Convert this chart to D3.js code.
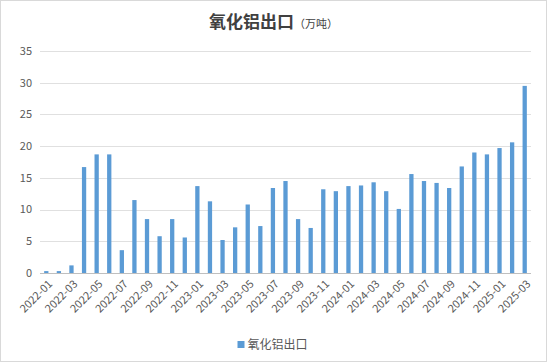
<!DOCTYPE html>
<html>
<head>
<meta charset="utf-8">
<script src="https://cdn.jsdelivr.net/npm/d3@7"></script>
<style>
  body { margin: 0; background: #fff; }
  text { font-family: "Noto Sans CJK SC", "Noto Sans", sans-serif; }
</style>
</head>
<body>
<div id="chart"></div>
<script>
const months = [
  "2022-01","2022-02","2022-03","2022-04","2022-05","2022-06","2022-07","2022-08","2022-09","2022-10","2022-11","2022-12",
  "2023-01","2023-02","2023-03","2023-04","2023-05","2023-06","2023-07","2023-08","2023-09","2023-10","2023-11","2023-12",
  "2024-01","2024-02","2024-03","2024-04","2024-05","2024-06","2024-07","2024-08","2024-09","2024-10","2024-11","2024-12",
  "2025-01","2025-02","2025-03"
];
const exports = [
  0.3, 0.3, 1.2, 16.7, 18.7, 18.7, 3.6, 11.5, 8.5, 5.8, 8.5, 5.6,
  13.7, 11.3, 5.2, 7.2, 10.8, 7.4, 13.4, 14.5, 8.5, 7.1, 13.2, 12.9,
  13.7, 13.8, 14.3, 12.9, 10.1, 15.6, 14.5, 14.2, 13.4, 16.8, 19.0, 18.7,
  19.7, 20.6, 29.5
];
const yTicks = [0, 5, 10, 15, 20, 25, 30, 35];
const tickLabels = months.filter((d, i) => i % 2 === 0);

const W = 547, H = 362;
const margin = {top: 51, right: 16, bottom: 89, left: 40},
    width = W - margin.left - margin.right,
    height = H - margin.top - margin.bottom;

const root = d3.select("#chart")
  .append("svg")
    .attr("width", W)
    .attr("height", H);

root.append("rect")
  .attr("x", 0.5).attr("y", 0.5)
  .attr("width", W - 1).attr("height", H - 1)
  .attr("fill", "#fff")
  .attr("stroke", "#d9d9d9");

const title = root.append("text")
  .attr("x", W / 2)
  .attr("y", 28)
  .attr("text-anchor", "middle");
title.append("tspan")
  .attr("font-size", 17)
  .attr("font-weight", "bold")
  .attr("fill", "#404040")
  .text("氧化铝出口");
title.append("tspan")
  .attr("font-size", 11)
  .attr("fill", "#404040")
  .text("（万吨）");

const svg = root.append("g")
  .attr("transform", `translate(${margin.left},${margin.top})`);

const x = d3.scaleBand()
  .domain(months)
  .range([0, width])
  .paddingInner(0.66)
  .paddingOuter(0.33);

const y = d3.scaleLinear()
  .domain([0, 35])
  .range([height, 0]);

// gridlines
svg.append("g")
  .selectAll("line")
  .data(yTicks)
  .enter()
  .append("line")
    .attr("x1", 0)
    .attr("x2", width)
    .attr("y1", d => Math.round(y(d)) + 0.5)
    .attr("y2", d => Math.round(y(d)) + 0.5)
    .attr("stroke", d => d === 0 ? "#bfbfbf" : "#e0e0e0");

// y labels
svg.append("g")
  .selectAll("text")
  .data(yTicks)
  .enter()
  .append("text")
    .attr("x", -8)
    .attr("y", d => y(d))
    .attr("dy", "0.35em")
    .attr("text-anchor", "end")
    .attr("font-size", 11)
    .attr("fill", "#595959")
    .text(d => d);

// bars
svg.selectAll(".bar")
  .data(months)
  .enter()
  .append("rect")
    .attr("class", "bar")
    .attr("x", d => x(d))
    .attr("y", (d, i) => y(exports[i]))
    .attr("width", x.bandwidth())
    .attr("height", (d, i) => height - y(exports[i]))
    .attr("fill", "#5b9bd5");

// x labels
svg.append("g")
  .selectAll("text")
  .data(tickLabels)
  .enter()
  .append("text")
    .attr("transform", d => `translate(${x(d) + x.bandwidth() / 2 + 4},${height + 9})rotate(-45)`)
    .attr("text-anchor", "end")
    .attr("dy", "0.35em")
    .attr("font-size", 11)
    .attr("fill", "#595959")
    .text(d => d);

// legend
const legend = root.append("g")
  .attr("transform", `translate(${W / 2 - 36},345)`);
legend.append("rect")
  .attr("x", 0).attr("y", -4)
  .attr("width", 7).attr("height", 7)
  .attr("fill", "#5b9bd5");
legend.append("text")
  .attr("x", 10)
  .attr("y", 0)
  .attr("dy", "0.35em")
  .attr("font-size", 12)
  .attr("fill", "#595959")
  .text("氧化铝出口");
</script>
</body>
</html>
